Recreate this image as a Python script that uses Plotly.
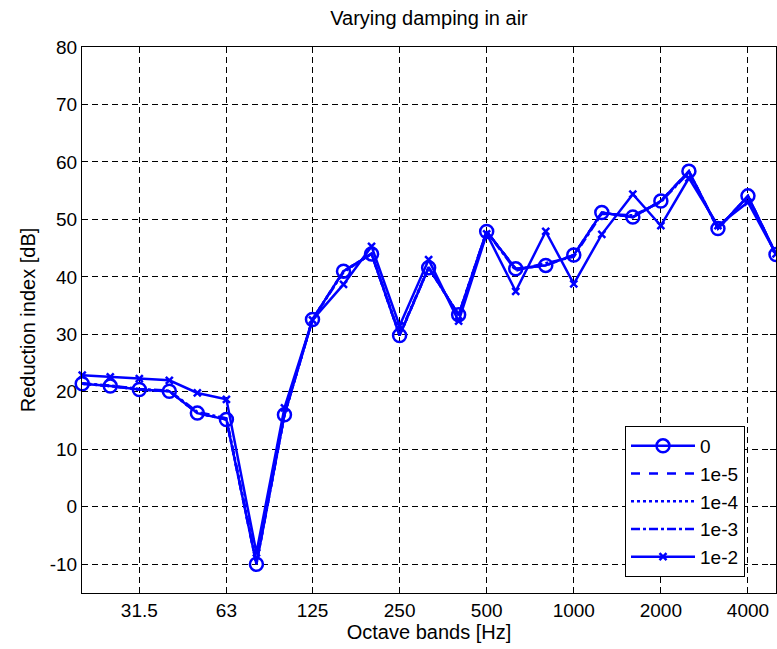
import plotly.graph_objects as go
import math

freqs = [20, 25, 31.5, 40, 50, 63, 80, 100, 125, 160, 200, 250, 315, 400, 500,
         630, 800, 1000, 1250, 1600, 2000, 2500, 3150, 4000, 5000]

r_0 = [21.4, 21.0, 20.4, 20.1, 16.3, 15.2, -10.0, 16.0, 32.6, 41.0, 44.0, 29.8,
       41.6, 33.4, 47.9, 41.4, 42.0, 43.8, 51.2, 50.4, 53.2, 58.4, 48.4, 54.1, 43.9]
r_1e5 = [21.4, 21.0, 20.4, 20.1, 16.3, 15.2, -10.0, 16.0, 32.6, 41.0, 44.0, 29.8,
         41.6, 33.4, 47.9, 41.4, 42.0, 43.8, 51.2, 50.4, 53.2, 58.4, 48.4, 54.1, 43.9]
r_1e4 = [21.4, 21.0, 20.4, 20.1, 16.3, 15.2, -9.9, 16.0, 32.6, 41.0, 44.0, 29.8,
         41.6, 33.4, 47.9, 41.4, 42.0, 43.8, 51.2, 50.4, 53.2, 58.3, 48.4, 54.0, 43.9]
r_1e3 = [21.5, 21.1, 20.5, 20.2, 16.5, 15.4, -9.4, 16.1, 32.6, 40.8, 44.1, 30.0,
         41.7, 33.3, 47.9, 41.1, 42.4, 43.5, 51.0, 50.7, 53.0, 58.2, 48.4, 54.0, 43.9]
r_1e2 = [22.9, 22.6, 22.3, 22.0, 19.8, 18.7, -8.0, 17.2, 32.5, 38.7, 45.3, 31.5,
         43.0, 32.3, 47.5, 37.5, 47.9, 38.8, 47.4, 54.4, 48.9, 57.2, 48.9, 53.0, 44.0]

tick_vals = [31.5, 63, 125, 250, 500, 1000, 2000, 4000]
tick_text = ["31.5", "63", "125", "250", "500", "1000", "2000", "4000"]
y_ticks = [-10, 0, 10, 20, 30, 40, 50, 60, 70, 80]
y_tick_text = ["-10", "0", "10", "20", "30", "40", "50", "60", "70", "80"]

series = [
    ("0", r_0, "solid", dict(symbol="circle-open", size=13, color="#0000ff",
                             line=dict(width=2.5, color="#0000ff")), "lines+markers"),
    ("1e-5", r_1e5, "dash", None, "lines"),
    ("1e-4", r_1e4, "dot", None, "lines"),
    ("1e-3", r_1e3, "dashdot", None, "lines"),
    ("1e-2", r_1e2, "solid", dict(symbol="x-thin", size=7, color="#0000ff",
                                  line=dict(width=2.5, color="#0000ff")), "lines+markers"),
]

FONT = "Liberation Sans, Arial, sans-serif"

fig = go.Figure()
for i, (name, vals, dash, marker, mode) in enumerate(series):
    kw = dict(x=freqs, y=vals, name=name, mode=mode, legendgroup=f"g{i}",
              line=dict(color="#0000ff", width=2.5, dash=dash), cliponaxis=False)
    if marker:
        kw["marker"] = marker
    fig.add_trace(go.Scatter(**kw))

W, H = 777, 649
ml, mr, mt, mb = 82, 1, 47, 56

fig.update_layout(
    width=W, height=H,
    margin=dict(l=ml, r=mr, t=mt, b=mb),
    paper_bgcolor="white", plot_bgcolor="white",
    font=dict(family=FONT, size=19, color="black"),
    title=dict(text="Varying damping in air", x=0.5, xref="paper",
               y=1 - 18 / H, yref="container", yanchor="middle",
               font=dict(family=FONT, size=20, color="black")),
    showlegend=True,
    legend=dict(x=(625 - ml) / (W - ml - mr), y=(H - mb - 426) / (H - mt - mb),
                xanchor="left", yanchor="top", bgcolor="white",
                bordercolor="black", borderwidth=1, itemwidth=64,
                tracegroupgap=0, traceorder="grouped",
                font=dict(family=FONT, size=19, color="black")),
)

fig.update_xaxes(
    type="log", range=[math.log10(20) - 0.0008, math.log10(5000)],
    tickmode="array", tickvals=tick_vals, ticktext=tick_text,
    ticks="inside", ticklen=6, tickcolor="black", tickwidth=1,
    showline=True, linecolor="black", linewidth=1, mirror="ticks",
    showgrid=True, gridcolor="black", gridwidth=1, griddash="6px,4px",
    zeroline=False,
    title=dict(text="Octave bands [Hz]", font=dict(family=FONT, size=20), standoff=5),
    tickfont=dict(family=FONT, size=19),
)
fig.update_yaxes(
    range=[-15, 80], tickmode="array", tickvals=y_ticks, ticktext=y_tick_text,
    ticks="inside", ticklen=6, tickcolor="black", tickwidth=1,
    showline=True, linecolor="black", linewidth=1, mirror="ticks",
    showgrid=True, gridcolor="black", gridwidth=1, griddash="6px,4px",
    zeroline=False,
    title=dict(text="Reduction index [dB]", font=dict(family=FONT, size=20), standoff=8),
    tickfont=dict(family=FONT, size=19),
)

fig.write_html("out.html")
